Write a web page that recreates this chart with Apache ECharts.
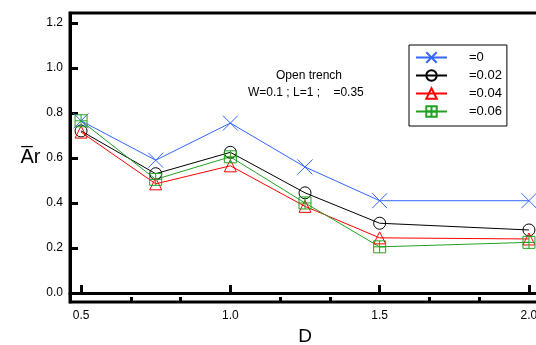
<!DOCTYPE html>
<html>
<head>
<meta charset="utf-8">
<script src="https://cdn.jsdelivr.net/npm/echarts@6/dist/echarts.min.js"></script>
<style>html,body{margin:0;padding:0;background:#fff}#c{width:536px;height:345px}</style>
</head>
<body>
<div id="c"></div>
<script>
var D = [0.5, 0.75, 1.0, 1.25, 1.5, 2.0];
var s0 = [0.765, 0.59, 0.755, 0.56, 0.41, 0.41];
var s002 = [0.72, 0.53, 0.625, 0.445, 0.31, 0.28];
var s004 = [0.715, 0.485, 0.565, 0.385, 0.245, 0.24];
var s006 = [0.765, 0.505, 0.605, 0.40, 0.205, 0.225];
var seriesNames = ['=0', '=0.02', '=0.04', '=0.06'];
var xMajor = [0.5, 1.0, 1.5, 2.0];
var xMinor = [0.6667, 0.8333, 1.1667, 1.3333, 1.6667, 1.8333];
var yTicks = [0.0, 0.2, 0.4, 0.6, 0.8, 1.0, 1.2];

function pairs(v){ return D.map(function(d,i){ return [d, v[i]]; }); }
var FONT = 'Liberation Sans, Arial, sans-serif';
var chart = echarts.init(document.getElementById('c'));
function mk(name, data, color, symbol, size){
  return {
    name: name, type: 'line', data: pairs(data), xAxisIndex: 0,
    symbol: symbol, symbolSize: size, showSymbol: true,
    lineStyle: {color: color, width: 1},
    itemStyle: {color: 'transparent', borderColor: color, borderWidth: 1},
    emphasis: {disabled: true}, animation: false
  };
}
chart.setOption({
  animation: false,
  grid: {left: 70, top: 13, width: 470, height: 289, outerBoundsMode: 'none', containLabel: false,
         show: true, borderColor: '#000', borderWidth: 3, backgroundColor: 'transparent'},
  legend: {
    orient: 'vertical', left: 409, top: 45,
    padding: [6, 5, 8, 6], itemGap: 5, itemWidth: 31, itemHeight: 13,
    borderColor: '#000', borderWidth: 1,
    textStyle: {fontFamily: FONT, fontSize: 13, color: '#000', padding: [0, 0, 0, 17]},
    data: seriesNames
  },
  xAxis: [{
    type: 'value', min: 0.463, max: 2.037,
    name: 'D', nameLocation: 'middle', nameGap: 25,
    nameTextStyle: {fontFamily: FONT, fontSize: 19, color: '#000'},
    axisLine: {show: true, lineStyle: {color: '#000', width: 3}},
    axisTick: {show: true, inside: true, length: 8, lineStyle: {color: '#000', width: 3}, customValues: xMajor},
    axisLabel: {fontFamily: FONT, fontSize: 12, color: '#000', margin: 8, customValues: xMajor, formatter: function(v){ return v.toFixed(1); }},
    splitLine: {show: false}
  }, {
    type: 'value', min: 0.463, max: 2.037, position: 'bottom', gridIndex: 0,
    axisLine: {show: false},
    axisTick: {show: true, inside: true, length: 5, lineStyle: {color: '#000', width: 3}, customValues: xMinor},
    axisLabel: {show: false},
    splitLine: {show: false}
  }],
  yAxis: {
    type: 'value', min: -0.04, max: 1.244,
    name: 'A\u0305r', nameLocation: 'middle', nameRotate: 0, nameGap: 25,
    nameTextStyle: {fontFamily: FONT, fontSize: 20, color: '#000'},
    axisLine: {show: true, lineStyle: {color: '#000', width: 3}},
    axisTick: {show: true, inside: true, length: 8, lineStyle: {color: '#000', width: 3}, customValues: yTicks},
    axisLabel: {fontFamily: FONT, fontSize: 12, color: '#000', margin: 7, customValues: yTicks, formatter: function(v){ return v.toFixed(1); }},
    splitLine: {show: false}
  },
  graphic: [
    {type: 'text', left: 276, top: 70, style: {text: 'Open trench', fontFamily: FONT, fontSize: 12, fill: '#000'}},
    {type: 'text', left: 248, top: 87, style: {text: 'W=0.1 ; L=1 ;    =0.35', fontFamily: FONT, fontSize: 12, fill: '#000'}}
  ],
  series: [
    mk(seriesNames[0], s0, '#3366ff', 'path://M0,0L10,10M10,0L0,10', 15),
    mk(seriesNames[1], s002, '#000000', 'circle', 12),
    mk(seriesNames[2], s004, '#ff0000', 'triangle', 12),
    mk(seriesNames[3], s006, '#22a022', 'path://M0,0H10V10H0ZM5,0V10M0,5H10', 12)
  ]
});
</script>
</body>
</html>
